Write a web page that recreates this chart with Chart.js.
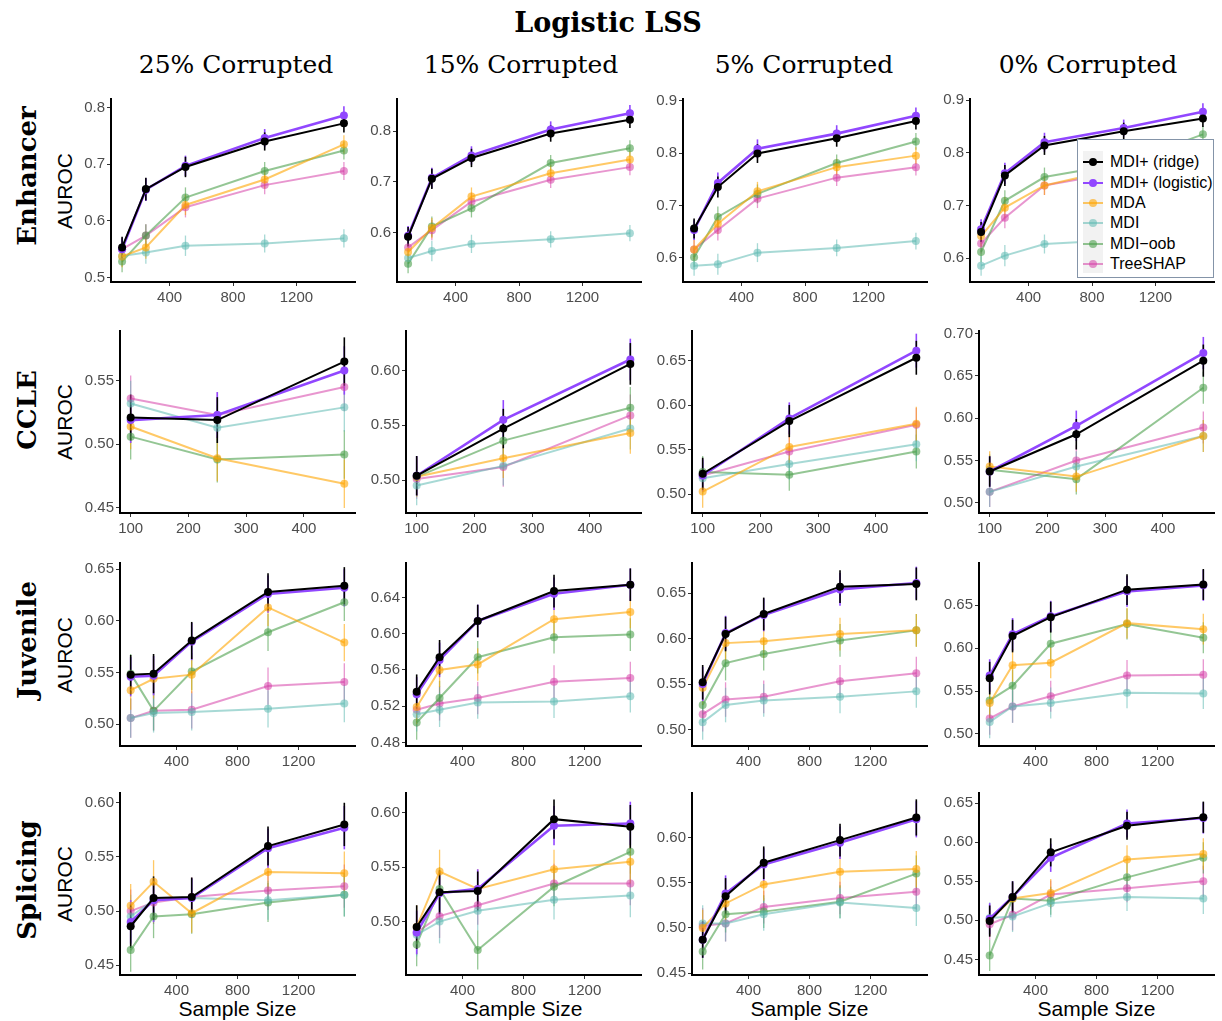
<!DOCTYPE html>
<html><head><meta charset="utf-8">
<script src="https://cdn.jsdelivr.net/npm/chart.js@4/dist/chart.umd.min.js"></script>
<style>
body{margin:0;background:#fff;width:1222px;height:1021px;overflow:hidden;position:relative;font-family:"Liberation Sans",Arial,sans-serif}
.abs{position:absolute;white-space:nowrap}
.ctr{transform:translate(-50%,-50%)}
.rot{transform:translate(-50%,-50%) rotate(-90deg)}
.main{font-family:"DejaVu Serif",serif;font-weight:bold;font-size:27px;color:#000}
.col{font-family:"DejaVu Serif",serif;font-size:25px;color:#000}
.rowl{font-family:"DejaVu Serif",serif;font-weight:bold;font-size:26px;color:#000}
.axt{font-size:21px;color:#000}
.panel{position:absolute}
.leg{position:absolute;left:1077px;top:139px;width:137px;height:139px;border:1px solid #8494A8;background:#fff;box-sizing:border-box}
.legbg{position:absolute;left:1083px;top:151px;width:20px;height:122px;background:#F2F2F2}
.li{position:absolute;left:1110px;font-size:16px;color:#000;transform:translateY(-50%)}
.kl{position:absolute;left:1083px;width:20px;height:2px;transform:translateY(-50%)}
.kd{position:absolute;left:1089px;width:8px;height:8px;border-radius:50%;transform:translateY(-50%)}
</style></head>
<body>
<script>
// ---------------- DATA ----------------
const methods = ['MDI+ (ridge)','MDI+ (logistic)','MDA','MDI','MDI\u2212oob','TreeSHAP'];
const methodColors = ['rgba(0,0,0,1)','rgba(145,71,255,1)','rgba(255,165,0,0.6)','rgba(95,185,179,0.55)','rgba(76,160,76,0.6)','rgba(214,63,168,0.55)'];
const rowNames = ['Enhancer','CCLE','Juvenile','Splicing'];
const colNames = ['25% Corrupted','15% Corrupted','5% Corrupted','0% Corrupted'];
const sizesLarge = [100,250,500,1000,1500];
const sizesCCLE = [100,250,470];
const xTicksLarge = [400,800,1200];
const xTicksCCLE = [100,200,300,400];

// rows of each array: ridge, logistic, MDA, MDI, MDI-oob, TreeSHAP
const enh25 = [[0.553,0.656,0.695,0.740,0.772],[0.550,0.655,0.697,0.746,0.786],[0.537,0.553,0.628,0.673,0.735],[0.538,0.544,0.556,0.560,0.569],[0.528,0.574,0.641,0.688,0.724],[0.550,0.574,0.624,0.663,0.688]];
const enh15 = [[0.592,0.706,0.747,0.795,0.822],[0.594,0.708,0.752,0.803,0.835],[0.562,0.609,0.671,0.717,0.744],[0.550,0.564,0.578,0.587,0.599],[0.539,0.612,0.648,0.737,0.766],[0.571,0.605,0.661,0.704,0.729]];
const enh5 = [[0.656,0.735,0.799,0.828,0.861],[0.653,0.743,0.808,0.837,0.871],[0.616,0.665,0.727,0.773,0.795],[0.585,0.588,0.610,0.619,0.632],[0.601,0.678,0.722,0.781,0.822],[0.616,0.653,0.713,0.753,0.773]];
const enh0 = [[0.650,0.757,0.814,0.841,0.865],[0.655,0.761,0.820,0.847,0.878],[0.642,0.696,0.738,0.772,0.805],[0.586,0.605,0.627,0.635,0.645],[0.612,0.709,0.754,0.780,0.835],[0.628,0.677,0.738,0.765,0.790]];
const ccle25 = [[0.521,0.519,0.565],[0.519,0.523,0.558],[0.514,0.489,0.469],[0.532,0.513,0.529],[0.506,0.488,0.492],[0.536,0.523,0.545]];
const ccle15 = [[0.504,0.547,0.606],[0.504,0.555,0.610],[0.503,0.520,0.543],[0.495,0.513,0.547],[0.503,0.536,0.566],[0.501,0.512,0.559]];
const ccle5 = [[0.523,0.582,0.653],[0.521,0.585,0.661],[0.503,0.553,0.579],[0.518,0.534,0.556],[0.525,0.522,0.548],[0.521,0.548,0.578]];
const ccle0 = [[0.537,0.581,0.668],[0.537,0.591,0.677],[0.543,0.531,0.579],[0.513,0.543,0.579],[0.539,0.528,0.636],[0.513,0.550,0.589]];
const juv25 = [[0.548,0.549,0.581,0.628,0.634],[0.546,0.547,0.580,0.626,0.632],[0.533,0.544,0.548,0.613,0.579],[0.506,0.511,0.512,0.515,0.520],[0.549,0.513,0.551,0.589,0.618],[0.506,0.513,0.514,0.537,0.541]];
const juv15 = [[0.536,0.574,0.614,0.647,0.654],[0.533,0.571,0.614,0.644,0.654],[0.519,0.560,0.566,0.616,0.624],[0.511,0.516,0.524,0.525,0.531],[0.502,0.529,0.574,0.596,0.599],[0.516,0.523,0.529,0.547,0.551]];
const juv5 = [[0.552,0.605,0.627,0.657,0.660],[0.550,0.606,0.626,0.654,0.661],[0.546,0.595,0.597,0.605,0.609],[0.508,0.527,0.532,0.536,0.542],[0.527,0.573,0.583,0.598,0.609],[0.517,0.533,0.536,0.553,0.562]];
const juv0 = [[0.565,0.614,0.636,0.668,0.674],[0.568,0.616,0.637,0.666,0.673],[0.536,0.580,0.583,0.629,0.622],[0.514,0.532,0.536,0.548,0.547],[0.539,0.556,0.605,0.628,0.612],[0.518,0.532,0.544,0.568,0.569]];
const spl25 = [[0.486,0.512,0.513,0.560,0.580],[0.490,0.510,0.512,0.558,0.577],[0.505,0.527,0.498,0.536,0.535],[0.495,0.510,0.512,0.510,0.515],[0.464,0.495,0.497,0.508,0.515],[0.500,0.508,0.513,0.519,0.523]];
const spl15 = [[0.495,0.527,0.528,0.594,0.587],[0.490,0.526,0.530,0.588,0.590],[0.495,0.546,0.530,0.548,0.555],[0.488,0.500,0.510,0.520,0.524],[0.479,0.530,0.474,0.532,0.564],[0.490,0.505,0.515,0.535,0.535]];
const spl5 = [[0.487,0.535,0.572,0.597,0.622],[0.487,0.538,0.570,0.594,0.620],[0.500,0.527,0.548,0.562,0.565],[0.505,0.505,0.515,0.528,0.522],[0.474,0.515,0.518,0.529,0.560],[0.502,0.505,0.523,0.533,0.540]];
const spl0 = [[0.499,0.530,0.587,0.621,0.632],[0.502,0.530,0.580,0.624,0.631],[0.500,0.528,0.535,0.578,0.585],[0.503,0.505,0.522,0.530,0.528],[0.455,0.528,0.525,0.555,0.580],[0.495,0.507,0.533,0.541,0.550]];

// error-bar half widths per sample size
const errEnh = [0.019,0.02,0.018,0.016,0.016];
const errCCLE = [0.018,0.018,0.019];
const errJuv = [0.019,0.019,0.018,0.018,0.018];
const errSpl = [0.02,0.02,0.018,0.018,0.02];

// y ticks per panel
const yTicksEnh = [[0.5,0.6,0.7,0.8],[0.6,0.7,0.8],[0.6,0.7,0.8,0.9],[0.6,0.7,0.8,0.9]];
const yTicksCCLE = [[0.45,0.50,0.55],[0.50,0.55,0.60],[0.50,0.55,0.60,0.65],[0.50,0.55,0.60,0.65,0.70]];
const yTicksJuv = [[0.50,0.55,0.60,0.65],[0.48,0.52,0.56,0.60,0.64],[0.50,0.55,0.60,0.65],[0.50,0.55,0.60,0.65]];
const yTicksSpl = [[0.45,0.50,0.55,0.60],[0.50,0.55,0.60],[0.45,0.50,0.55,0.60],[0.45,0.50,0.55,0.60,0.65]];
// y-axis limits per panel
const yLimEnh = [[0.492,0.815],[0.503,0.863],[0.554,0.903],[0.555,0.902]];
const yLimCCLE = [[0.446,0.589],[0.470,0.636],[0.479,0.683],[0.488,0.703]];
const yLimJuv = [[0.479,0.656],[0.476,0.678],[0.482,0.683],[0.486,0.699]];
const yLimSpl = [[0.441,0.609],[0.451,0.618],[0.448,0.649],[0.430,0.663]];
const xLimLarge = [30,1570];
const xLimCCLE = [81.5,488.5];

// ---------------- LAYOUT ----------------
const colAxisBase = [111,397,683,970];
const colRight = [355,641,927,1214];
const rowTop = [99,331,563,793];
const rowBottom = [282,513,746,975];

function addText(cls, txt, x, y, extra){
  const d=document.createElement('div'); d.className='abs '+cls; d.textContent=txt;
  d.style.left=x+'px'; d.style.top=y+'px'; if(extra) d.style.cssText+=extra;
  document.body.appendChild(d); return d;
}
addText('main ctr','Logistic LSS',608,22);
const colCenters=[236,521,804,1088];
colNames.forEach((n,i)=>addText('col ctr',n,colCenters[i],64));
const rowLabelY=[176,410,640,880];
rowNames.forEach((n,i)=>addText('rowl rot',n,27,rowLabelY[i]));
rowTop.forEach((t,i)=>addText('axt rot','AUROC',65,(t+rowBottom[i])/2));
for(let c=0;c<4;c++){ addText('axt ctr','Sample Size',(colAxisBase[c]+9+colRight[c])/2,1009); }

const errPlugin={id:'errbars',beforeDatasetsDraw(chart){
  const ctx=chart.ctx, ys=chart.scales.y, errs=chart.options.plugins.errbars.errs;
  for(let i=chart.data.datasets.length-1;i>=0;i--){
    const ds=chart.data.datasets[i], meta=chart.getDatasetMeta(i);
    ctx.save(); ctx.strokeStyle=ds.borderColor; ctx.lineWidth=i<2?1.6:1.3;
    meta.data.forEach((pt,j)=>{const v=ds.data[j].y;
      ctx.beginPath(); ctx.moveTo(pt.x,ys.getPixelForValue(v-errs[j])); ctx.lineTo(pt.x,ys.getPixelForValue(v+errs[j])); ctx.stroke();});
    ctx.restore();
  }
}};

function makePanel(r,c,xs,series,errs,xTicks,xLim,yTicks,yLim,dec){
  const axisX=colAxisBase[c]+(dec===2?9:0);
  const yW=50, padT=12, padR=8, xH=28;
  const left=axisX-yW, top=rowTop[r]-padT;
  const w=colRight[c]+padR-left, h=rowBottom[r]+xH-top;
  const cv=document.createElement('canvas'); cv.width=w; cv.height=h;
  cv.className='panel'; cv.style.left=left+'px'; cv.style.top=top+'px';
  cv.style.width=w+'px'; cv.style.height=h+'px';
  document.body.appendChild(cv);
  const datasets=series.map((s,k)=>({
    label:methods[k], data:s.map((v,j)=>({x:xs[j],y:v})),
    borderColor:methodColors[k], backgroundColor:methodColors[k],
    pointBackgroundColor:methodColors[k], pointBorderWidth:0,
    borderWidth:k===1?2.6:2, pointRadius:4, tension:0, clip:false
  }));
  const tickFont={family:'"Liberation Sans", Arial, sans-serif',size:15};
  new Chart(cv,{type:'line',data:{datasets},plugins:[errPlugin],options:{
    responsive:false, animation:false, devicePixelRatio:1,
    layout:{padding:{top:padT,right:padR,left:0,bottom:0}},
    plugins:{legend:{display:false},tooltip:{enabled:false},errbars:{errs}},
    scales:{
      x:{type:'linear',min:xLim[0],max:xLim[1],
        afterBuildTicks:s=>{s.ticks=xTicks.map(v=>({value:v}));},
        afterFit:s=>{s.height=xH;},
        border:{display:true,color:'#000',width:2},
        grid:{drawOnChartArea:false,drawTicks:true,tickLength:4,color:'#333'},
        ticks:{font:tickFont,color:'#4D4D4D',padding:3,maxRotation:0,autoSkip:false,callback:v=>String(v)}},
      y:{type:'linear',min:yLim[0],max:yLim[1],
        afterBuildTicks:s=>{s.ticks=yTicks.map(v=>({value:v}));},
        afterFit:s=>{s.width=yW;},
        border:{display:true,color:'#000',width:2},
        grid:{drawOnChartArea:false,drawTicks:true,tickLength:4,color:'#333'},
        ticks:{font:tickFont,color:'#4D4D4D',padding:2,autoSkip:false,callback:v=>Number(v).toFixed(dec)}}
    }}});
}

const enhAll=[enh25,enh15,enh5,enh0], ccleAll=[ccle25,ccle15,ccle5,ccle0], juvAll=[juv25,juv15,juv5,juv0], splAll=[spl25,spl15,spl5,spl0];
for(let c=0;c<4;c++){
  makePanel(0,c,sizesLarge,enhAll[c],errEnh,xTicksLarge,xLimLarge,yTicksEnh[c],yLimEnh[c],1);
  makePanel(1,c,sizesCCLE,ccleAll[c],errCCLE,xTicksCCLE,xLimCCLE,yTicksCCLE[c],yLimCCLE[c],2);
  makePanel(2,c,sizesLarge,juvAll[c],errJuv,xTicksLarge,xLimLarge,yTicksJuv[c],yLimJuv[c],2);
  makePanel(3,c,sizesLarge,splAll[c],errSpl,xTicksLarge,xLimLarge,yTicksSpl[c],yLimSpl[c],2);
}

// legend
const lg=document.createElement('div'); lg.className='leg'; document.body.appendChild(lg);
const lbg=document.createElement('div'); lbg.className='legbg'; document.body.appendChild(lbg);
const legY=[162,183,203,223,244,264];
methods.forEach((m,k)=>{
  const l=document.createElement('div'); l.className='kl'; l.style.top=legY[k]+'px'; l.style.background=methodColors[k]; document.body.appendChild(l);
  const d=document.createElement('div'); d.className='kd'; d.style.top=legY[k]+'px'; d.style.background=methodColors[k]; document.body.appendChild(d);
  const t=document.createElement('div'); t.className='li'; t.style.top=legY[k]+'px'; t.textContent=m; document.body.appendChild(t);
});
</script>
</body></html>
